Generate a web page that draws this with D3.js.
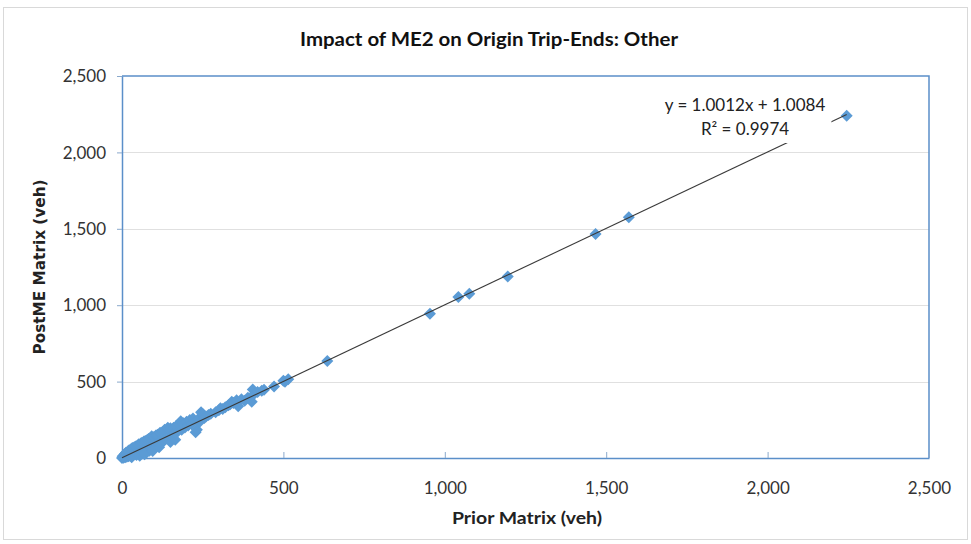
<!DOCTYPE html>
<html>
<head>
<meta charset="utf-8">
<script src="https://cdn.jsdelivr.net/npm/d3@7"></script>
<style>
  html, body { margin: 0; padding: 0; background: #fff; }
  svg { display: block; }
</style>
</head>
<body>
<svg id="chart" width="971" height="544"></svg>
<script>
// ---- Data ----
const title = "Impact of ME2 on Origin Trip-Ends: Other";
const xTitle = "Prior Matrix (veh)";
const yTitle = "PostME Matrix (veh)";
const xTicks = [0, 500, 1000, 1500, 2000, 2500];
const yTicks = [0, 500, 1000, 1500, 2000, 2500];
const priorValues = [0, 2, 5, 8, 10, 12, 15, 18, 20, 22, 25, 28, 30, 32, 35, 38, 40, 42, 45, 48,
  50, 52, 55, 58, 60, 62, 65, 68, 70, 72, 75, 78, 80, 82, 85, 88, 90, 92, 95, 98,
  100, 105, 108, 110, 115, 118, 120, 125, 128, 132, 135, 140, 142, 145, 150, 155, 160, 163, 168, 172,
  178, 182, 185, 190, 195, 200, 205, 210, 215, 220, 228, 232, 235, 240, 245, 250, 255, 260, 268, 275,
  290, 300, 305, 312, 320, 330, 335, 340, 345, 355, 360, 370, 380, 390, 402, 405, 410, 420, 433, 440,
  471, 500, 505, 515, 636, 954, 1042, 1076, 1195, 1467, 1570, 2245,
  30, 55, 70, 95, 115, 150, 165];
const postValues = [0, 12, 2, 25, 5, 35, 8, 42, 12, 50, 15, 58, 18, 65, 22, 70, 25, 75, 20, 82,
  35, 90, 32, 95, 40, 100, 30, 108, 50, 112, 35, 118, 58, 125, 48, 130, 70, 142, 65, 135,
  85, 148, 90, 152, 105, 165, 115, 168, 108, 185, 125, 190, 198, 130, 195, 140, 198, 165, 210, 172,
  220, 240, 185, 228, 200, 238, 212, 248, 222, 258, 168, 185, 252, 235, 300, 288, 262, 272, 282, 290,
  300, 312, 325, 320, 332, 345, 352, 368, 360, 378, 338, 385, 375, 395, 368, 448, 420, 432, 440, 446,
  468, 505, 499, 515, 635, 944, 1054, 1075, 1188, 1466, 1575, 2240,
  5, 15, 25, 45, 70, 105, 120];
const slope = 1.0012;
const intercept = 1.0084;
const r2 = 0.9974;
const equationText = "y = 1.0012x + 1.0084";
const r2Text = "R² = 0.9974";

// ---- Layout ----
const plot = { left: 122, right: 929, top: 76, bottom: 458 };
const svg = d3.select("#chart");

const x = d3.scaleLinear().domain([0, 2500]).range([plot.left, plot.right]);
const y = d3.scaleLinear().domain([0, 2500]).range([plot.bottom, plot.top]);

const axisColor = "#5b8fc9";
const font = "Lato, 'Open Sans', sans-serif";

// outer chart border
svg.append("rect").attr("x", 3.5).attr("y", 7.5).attr("width", 964).attr("height", 532)
  .attr("fill", "#fff").attr("stroke", "#d9d9d9").attr("stroke-width", 1);

// gridlines
svg.append("g").selectAll("line").data(yTicks.filter(d => d > 0 && d < 2500)).join("line")
  .attr("x1", plot.left).attr("x2", plot.right)
  .attr("y1", d => Math.round(y(d)) + 0.5).attr("y2", d => Math.round(y(d)) + 0.5)
  .attr("stroke", "#e0e0e0").attr("stroke-width", 1);

// plot frame (top & right)
svg.append("path")
  .attr("d", `M${plot.left},${plot.top}H${plot.right}V${plot.bottom}`)
  .attr("fill", "none").attr("stroke", axisColor).attr("stroke-width", 1.5);

// y axis
const yAxis = svg.append("g").attr("transform", `translate(${plot.left},0)`)
  .call(d3.axisLeft(y).tickValues(yTicks).tickFormat(d3.format(",")).tickSizeInner(5).tickSizeOuter(0).tickPadding(11));
yAxis.select(".domain").attr("stroke", axisColor).attr("stroke-width", 1.5);
yAxis.selectAll(".tick line").attr("stroke", "#8aa9cc");
yAxis.selectAll("text").attr("font-family", font).attr("font-size", 17).attr("fill", "#333").attr("dy", "0.34em");

// x axis (ticks pointing inward)
const xAxis = svg.append("g").attr("transform", `translate(0,${plot.bottom})`)
  .call(d3.axisBottom(x).tickValues(xTicks).tickFormat(d3.format(",")).tickSizeInner(-6).tickSizeOuter(0).tickPadding(24));
xAxis.select(".domain").attr("stroke", axisColor).attr("stroke-width", 1.5);
xAxis.selectAll(".tick line").attr("stroke", "#8aa9cc");
xAxis.selectAll("text").attr("font-family", font).attr("font-size", 17).attr("fill", "#333");

// points
const points = priorValues.map((v, i) => ({ px: v, py: postValues[i] }));
const diamond = d3.symbol().type(d3.symbolSquare).size(72);
svg.append("g").selectAll("path").data(points).join("path")
  .attr("d", diamond)
  .attr("transform", d => `translate(${x(d.px)},${y(d.py)}) rotate(45)`)
  .attr("fill", "#5b9bd5");

// trendline
const xMin = d3.min(priorValues), xMax = d3.max(priorValues);
svg.append("line")
  .attr("x1", x(xMin)).attr("y1", y(slope * xMin + intercept))
  .attr("x2", x(xMax)).attr("y2", y(slope * xMax + intercept))
  .attr("stroke", "#3a3a3a").attr("stroke-width", 1.1);

// equation label with white background
const lab = svg.append("g");
const bg = lab.append("rect").attr("fill", "#fff");
lab.append("text").attr("x", 745).attr("y", 111).attr("text-anchor", "middle")
  .attr("font-family", font).attr("font-size", 17).attr("fill", "#222").text(equationText);
lab.append("text").attr("x", 745).attr("y", 135).attr("text-anchor", "middle")
  .attr("font-family", font).attr("font-size", 17).attr("fill", "#222").text(r2Text);
const bb = lab.node().getBBox();
bg.attr("x", bb.x - 6).attr("y", bb.y - 3).attr("width", bb.width + 12).attr("height", bb.height + 7);

// titles
svg.append("text").attr("x", 489).attr("y", 46).attr("text-anchor", "middle")
  .attr("font-family", font).attr("font-weight", "bold").attr("font-size", 19).attr("fill", "#111")
  .attr("textLength", 378).attr("lengthAdjust", "spacingAndGlyphs")
  .text(title);
svg.append("text").attr("x", 527).attr("y", 524).attr("text-anchor", "middle")
  .attr("font-family", font).attr("font-weight", "bold").attr("font-size", 17).attr("fill", "#222")
  .attr("textLength", 150).attr("lengthAdjust", "spacingAndGlyphs")
  .text(xTitle);
svg.append("text").attr("transform", "translate(45,267) rotate(-90)").attr("text-anchor", "middle")
  .attr("font-family", "'DejaVu Sans', Verdana, sans-serif").attr("font-weight", "bold").attr("font-size", 15).attr("fill", "#222")
  .attr("textLength", 175).attr("lengthAdjust", "spacingAndGlyphs")
  .text(yTitle);
</script>
</body>
</html>
